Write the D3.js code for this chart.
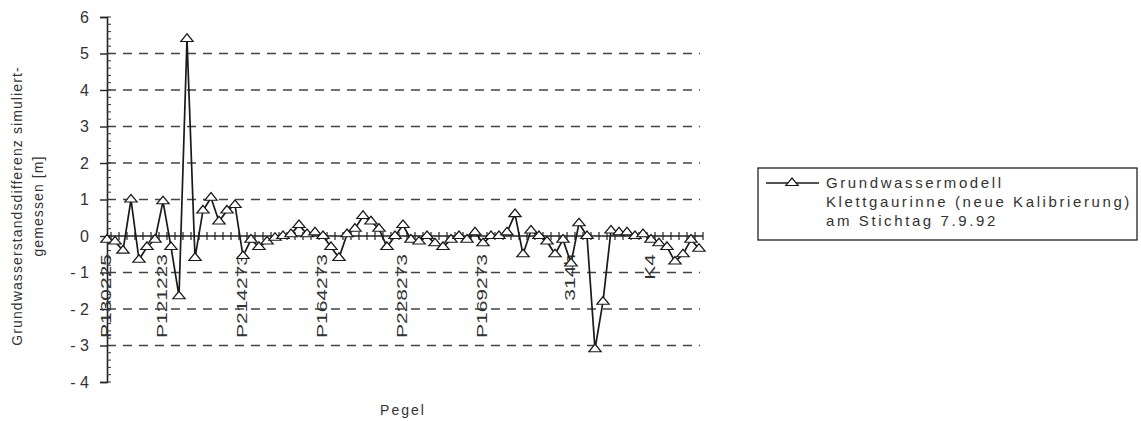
<!DOCTYPE html>
<html>
<head>
<meta charset="utf-8">
<script src="https://cdn.jsdelivr.net/npm/d3@7"></script>
<style>
  body { margin: 0; background: #fff; }
  svg text { font-family: "Liberation Sans", Arial, sans-serif; fill: #333; }
</style>
</head>
<body>
<script>
// values, one per Pegel (left to right)
var values = [
   -0.1, -0.15, -0.4, 1.0, -0.65, -0.3, -0.1, 0.95, -0.3, -1.65,
   5.4, -0.6, 0.7, 1.05, 0.4, 0.7, 0.85, -0.55, -0.1, -0.3,
   -0.15, -0.05, 0.0, 0.05, 0.3, 0.05, 0.1, 0.0, -0.3, -0.6,
   0.05, 0.2, 0.55, 0.4, 0.2, -0.3, 0.0, 0.3, -0.1, -0.15,
   0.0, -0.2, -0.3, -0.1, 0.0, -0.1, 0.1, -0.2, 0.0, 0.0,
   0.1, 0.6, -0.5, 0.15, 0.0, -0.15, -0.5, -0.1, -0.75, 0.35,
   0.0, -3.1, -1.8, 0.15, 0.1, 0.1, 0.0, 0.05, -0.1, -0.2,
   -0.3, -0.7, -0.5, -0.1, -0.35
];

// only some categories carry a label
var labelIndex = [0, 7, 17, 27, 37, 47, 58, 68];
var labelText = ["P130225", "P121223", "P214273", "P164273", "P228273", "P169273", "314h", "K4"];

var yTicks = [-4, -3, -2, -1, 0, 1, 2, 3, 4, 5, 6];
var gridValues = [-3, -2, -1, 1, 2, 3, 4, 5];

var legendLines = ["Grundwassermodell", "Klettgaurinne (neue Kalibrierung)", "am Stichtag 7.9.92"];

var W = 1141, H = 421;

var svg = d3.select("body").append("svg")
   .attr("width", W)
   .attr("height", H);

var x = d3.scalePoint()
   .domain(d3.range(values.length))
   .range([107, 699]);

var y = d3.scaleLinear().domain([-4, 6]).range([382, 17]);

var step = x.step();

// dashed gridlines
svg.append("g").selectAll("line")
   .data(gridValues)
   .enter().append("line")
   .attr("x1", 107).attr("x2", 700)
   .attr("y1", function(d) { return y(d); })
   .attr("y2", function(d) { return y(d); })
   .attr("stroke", "#444")
   .attr("stroke-width", 1.4)
   .attr("stroke-dasharray", "9,7");

// y axis
var yAxis = d3.axisLeft(y)
   .tickValues(yTicks)
   .tickSize(7)
   .tickPadding(11)
   .tickFormat(function(d) { return d < 0 ? "- " + (-d) : d; });

var gy = svg.append("g")
   .attr("transform", "translate(107,0)")
   .call(yAxis);
gy.select(".domain").attr("stroke", "#222").attr("stroke-width", 1.6);
gy.selectAll(".tick line").attr("stroke", "#222").attr("stroke-width", 1.4);
gy.selectAll(".tick text").style("font-size", "16px").attr("fill", "#333");

// minor ticks on the inside
svg.append("g").selectAll("line")
   .data(d3.range(-4, 6.01, 0.2))
   .enter().append("line")
   .attr("x1", 107).attr("x2", 111)
   .attr("y1", function(d) { return y(d); })
   .attr("y2", function(d) { return y(d); })
   .attr("stroke", "#333");

// zero line with crossing ticks between categories
svg.append("line")
   .attr("x1", 107).attr("x2", 703)
   .attr("y1", y(0)).attr("y2", y(0))
   .attr("stroke", "#222").attr("stroke-width", 1.6);

svg.append("g").selectAll("line")
   .data(d3.range(values.length))
   .enter().append("line")
   .attr("x1", function(d) { return x(d) + step / 2; })
   .attr("x2", function(d) { return x(d) + step / 2; })
   .attr("y1", y(0) - 4).attr("y2", y(0) + 4)
   .attr("stroke", "#222")
   .attr("stroke-width", 1.2);

// category labels, rotated and stretched like the scan
svg.append("g").selectAll("text")
   .data(labelIndex)
   .enter().append("text")
   .attr("transform", function(d) { return "translate(" + (x(d) - 1) + ",254) rotate(-90) scale(1.4,1)"; })
   .attr("text-anchor", "end")
   .attr("dy", ".35em")
   .style("font-size", "15px")
   .text(function(d, i) { return labelText[i]; });

// the series
var line = d3.line()
   .x(function(d, i) { return x(i); })
   .y(function(d) { return y(d); });

svg.append("path")
   .datum(values)
   .attr("fill", "none")
   .attr("stroke", "#1a1a1a")
   .attr("stroke-width", 1.7)
   .attr("d", line);

var tri = d3.symbol(d3.symbolTriangle, 46);

svg.append("g").selectAll("path")
   .data(values)
   .enter().append("path")
   .attr("d", tri)
   .attr("transform", function(d, i) { return "translate(" + x(i) + "," + y(d) + ") scale(1.2,0.85)"; })
   .attr("fill", "#fff")
   .attr("stroke", "#1a1a1a")
   .attr("stroke-width", 1.2);

// axis titles
var yt = svg.append("text")
   .attr("transform", "translate(22,206) rotate(-90)")
   .attr("text-anchor", "middle")
   .style("font-size", "14px")
   .style("letter-spacing", "1.1px");
yt.append("tspan").attr("x", 0).attr("dy", 0).text("Grundwasserstandsdifferenz simuliert-");
yt.append("tspan").attr("x", 0).attr("dy", 21).text("gemessen [m]");

svg.append("text")
   .attr("x", 403).attr("y", 415)
   .attr("text-anchor", "middle")
   .style("font-size", "14px")
   .style("letter-spacing", "2px")
   .text("Pegel");

// legend
var lg = svg.append("g");
lg.append("rect")
   .attr("x", 758).attr("y", 168)
   .attr("width", 379).attr("height", 72)
   .attr("fill", "#fff")
   .attr("stroke", "#222")
   .attr("stroke-width", 1.3);
lg.append("line")
   .attr("x1", 766).attr("x2", 819)
   .attr("y1", 183).attr("y2", 183)
   .attr("stroke", "#1a1a1a").attr("stroke-width", 1.6);
lg.append("path")
   .attr("d", tri)
   .attr("transform", "translate(792,183) scale(1.2,0.85)")
   .attr("fill", "#fff").attr("stroke", "#1a1a1a").attr("stroke-width", 1.2);
lg.selectAll("text")
   .data(legendLines)
   .enter().append("text")
   .attr("x", 826)
   .attr("y", function(d, i) { return 188 + i * 19; })
   .style("font-size", "15px")
   .style("letter-spacing", "2.6px")
   .text(function(d) { return d; });
</script>
</body>
</html>
